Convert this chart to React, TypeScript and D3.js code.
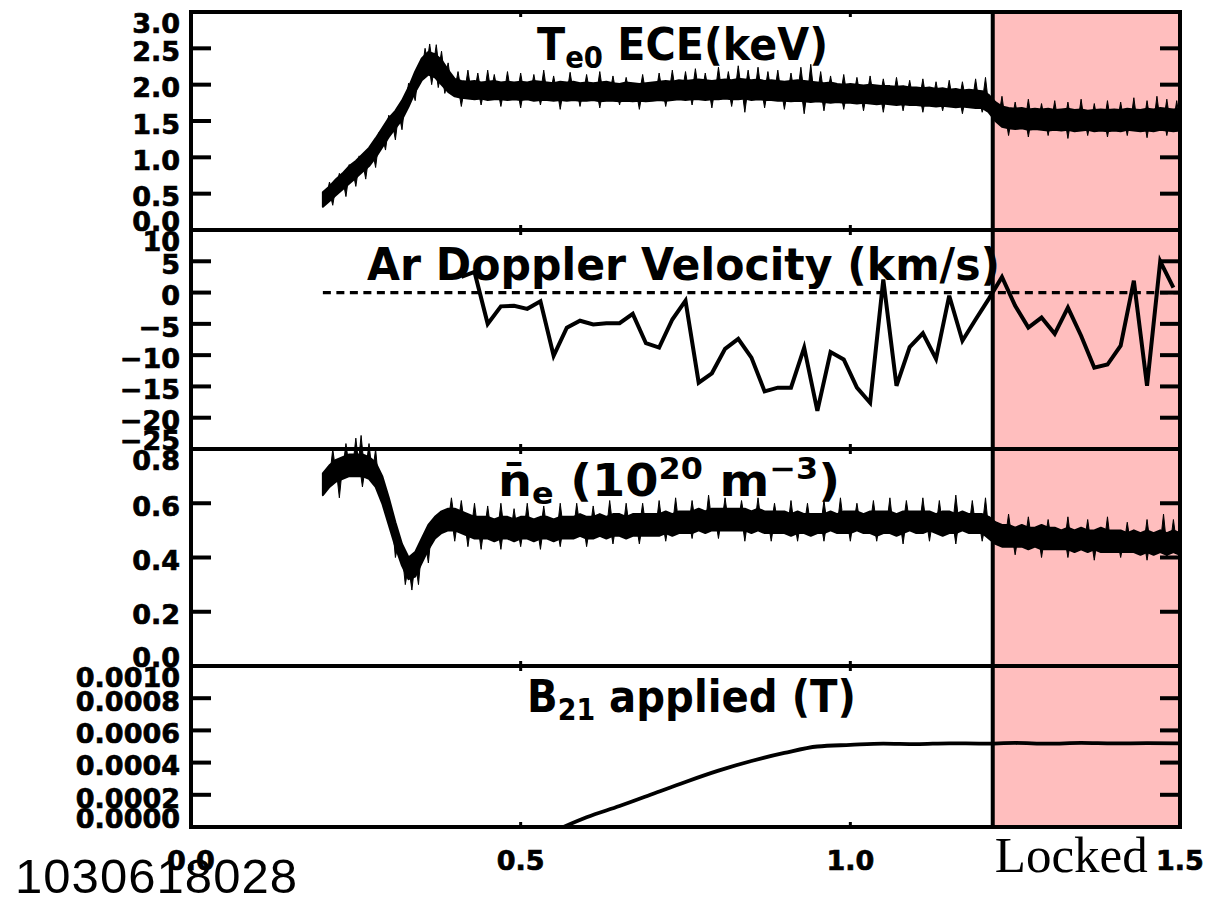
import React from 'react';
import * as d3 from 'd3';

// ---------- data ----------
const SAMPLE_START = 0.2; // s
const SAMPLE_STEP = 0.01; // s

// Te0 ECE band envelope (keV), sampled 0.20 .. 1.50 s
const teUpper = [
  0.52, 0.60, 0.70, 0.78, 0.88, 0.95, 1.04, 1.13, 1.26, 1.40,
  1.54, 1.64, 1.78, 1.96, 2.18, 2.36, 2.45, 2.42, 2.34, 2.20,
  2.08, 2.05, 2.04, 2.05, 2.03, 2.04, 2.05, 2.03, 2.04, 2.03,
  2.04, 2.03, 2.05, 2.04, 2.03, 2.02, 2.04, 2.03, 2.04, 2.02,
  2.03, 2.02, 2.03, 2.04, 2.02, 2.01, 2.03, 2.02, 2.01, 2.02,
  2.03, 2.04, 2.05, 2.04, 2.06, 2.05, 2.06, 2.07, 2.06, 2.05,
  2.06, 2.07, 2.06, 2.08, 2.07, 2.06, 2.07, 2.05, 2.06, 2.05,
  2.04, 2.05, 2.06, 2.05, 2.04, 2.03, 2.02, 2.03, 2.01, 2.00,
  2.01, 2.00, 1.99, 2.00, 1.99, 1.98, 1.98, 1.97, 1.98, 1.96,
  1.96, 1.95, 1.96, 1.94, 1.95, 1.93, 1.94, 1.92, 1.93, 1.92,
  1.91, 1.86, 1.76, 1.70, 1.68, 1.67, 1.68, 1.66, 1.67, 1.66,
  1.67, 1.65, 1.66, 1.67, 1.65, 1.66, 1.64, 1.65, 1.66, 1.65,
  1.66, 1.65, 1.67, 1.66, 1.65, 1.67, 1.66, 1.68, 1.67, 1.66,
  1.67,
];
const teLower = [
  0.32, 0.40, 0.48, 0.56, 0.64, 0.72, 0.80, 0.88, 1.00, 1.14,
  1.28, 1.40, 1.52, 1.70, 1.90, 2.06, 2.14, 2.10, 2.00, 1.90,
  1.84, 1.82, 1.81, 1.80, 1.81, 1.79, 1.80, 1.80, 1.79, 1.80,
  1.79, 1.80, 1.78, 1.79, 1.79, 1.78, 1.79, 1.78, 1.79, 1.78,
  1.78, 1.79, 1.77, 1.78, 1.78, 1.77, 1.78, 1.77, 1.78, 1.77,
  1.78, 1.79, 1.78, 1.79, 1.80, 1.79, 1.80, 1.80, 1.79, 1.80,
  1.80, 1.81, 1.80, 1.80, 1.81, 1.79, 1.80, 1.79, 1.79, 1.78,
  1.78, 1.77, 1.78, 1.77, 1.76, 1.77, 1.76, 1.75, 1.76, 1.75,
  1.75, 1.74, 1.75, 1.74, 1.73, 1.74, 1.73, 1.72, 1.73, 1.72,
  1.72, 1.71, 1.71, 1.70, 1.71, 1.70, 1.69, 1.70, 1.69, 1.68,
  1.68, 1.62, 1.50, 1.42, 1.40, 1.39, 1.40, 1.38, 1.39, 1.38,
  1.37, 1.38, 1.37, 1.38, 1.36, 1.37, 1.38, 1.36, 1.37, 1.36,
  1.37, 1.36, 1.38, 1.37, 1.36, 1.37, 1.36, 1.38, 1.37, 1.36,
  1.37,
];
// Te0 noise spikes: times (s) and tip values (keV)
const teSpikeUpT = [
  0.21, 0.225, 0.24, 0.255, 0.27, 0.285, 0.3, 0.315, 0.33, 0.345, 0.355, 0.362, 0.372, 0.38, 0.39,
  0.405, 0.42, 0.435, 0.45, 0.46, 0.48, 0.5, 0.52, 0.535, 0.55, 0.575, 0.6, 0.62, 0.64, 0.66,
  0.685, 0.71, 0.73, 0.75, 0.765, 0.78, 0.8, 0.815, 0.83, 0.845, 0.86, 0.875, 0.89, 0.91, 0.925,
  0.94, 0.955, 0.97, 0.99, 1.01, 1.03, 1.05, 1.07, 1.09, 1.11, 1.13, 1.15, 1.17, 1.19, 1.205,
  1.23, 1.25, 1.27, 1.29, 1.31, 1.33, 1.35, 1.37, 1.39, 1.41, 1.43, 1.45, 1.465, 1.48, 1.495,
];
const teSpikeUpV = [
  0.66, 0.78, 0.9, 1.02, 1.12, 1.34, 1.58, 1.72, 2.02, 2.26, 2.5, 2.56, 2.55, 2.46, 2.3,
  2.18, 2.2, 2.16, 2.2, 2.14, 2.18, 2.16, 2.14, 2.2, 2.12, 2.17, 2.14, 2.18, 2.12, 2.1,
  2.14, 2.16, 2.2, 2.18, 2.22, 2.16, 2.24, 2.18, 2.26, 2.2, 2.24, 2.18, 2.2, 2.16, 2.24,
  2.28, 2.18, 2.12, 2.14, 2.1, 2.12, 2.08, 2.1, 2.06, 2.08, 2.04, 2.06, 2.04, 2.08, 2.1,
  1.84, 1.76, 1.8, 1.74, 1.78, 1.76, 1.8, 1.74, 1.78, 1.76, 1.82, 1.78, 1.84, 1.8, 1.78,
];
const teSpikeDownT = [
  0.215, 0.235, 0.25, 0.265, 0.28, 0.295, 0.31, 0.32, 0.34, 0.365, 0.375, 0.385,
  0.41, 0.44, 0.47, 0.5, 0.53, 0.56, 0.59, 0.62, 0.65, 0.68, 0.72, 0.76, 0.79, 0.82,
  0.84, 0.87, 0.9, 0.93, 0.96, 0.99, 1.02, 1.05, 1.08, 1.11, 1.14, 1.17, 1.2,
  1.24, 1.27, 1.3, 1.33, 1.36, 1.39, 1.42, 1.45, 1.48,
];
const teSpikeDownV = [
  0.34, 0.46, 0.6, 0.7, 0.86, 1.1, 1.24, 1.38, 1.78, 2.0, 1.96, 1.88,
  1.7, 1.72, 1.7, 1.68, 1.72, 1.66, 1.7, 1.68, 1.72, 1.66, 1.7, 1.72, 1.68, 1.7,
  1.62, 1.68, 1.66, 1.6, 1.64, 1.66, 1.64, 1.62, 1.64, 1.62, 1.64, 1.6, 1.62,
  1.3, 1.28, 1.3, 1.26, 1.3, 1.28, 1.3, 1.27, 1.3,
];

// line-averaged density band envelope (1e20 m^-3), sampled 0.20 .. 1.50 s
const neUpper = [
  0.71, 0.74, 0.76, 0.77, 0.78, 0.78, 0.78, 0.77, 0.75, 0.70,
  0.62, 0.53, 0.45, 0.40, 0.42, 0.47, 0.52, 0.55, 0.57, 0.58,
  0.58, 0.57, 0.56, 0.55, 0.55, 0.55, 0.54, 0.55, 0.55, 0.54,
  0.55, 0.55, 0.54, 0.55, 0.55, 0.54, 0.55, 0.55, 0.55, 0.56,
  0.55, 0.55, 0.56, 0.55, 0.56, 0.56, 0.55, 0.56, 0.56, 0.56,
  0.56, 0.56, 0.57, 0.56, 0.57, 0.57, 0.57, 0.58, 0.57, 0.58,
  0.58, 0.58, 0.58, 0.58, 0.58, 0.57, 0.58, 0.57, 0.57, 0.57,
  0.57, 0.56, 0.57, 0.56, 0.56, 0.56, 0.56, 0.57, 0.56, 0.57,
  0.57, 0.57, 0.56, 0.57, 0.57, 0.57, 0.57, 0.56, 0.57, 0.57,
  0.57, 0.57, 0.57, 0.56, 0.57, 0.57, 0.56, 0.57, 0.56, 0.56,
  0.56, 0.55, 0.53, 0.52, 0.52, 0.51, 0.52, 0.51, 0.51, 0.52,
  0.51, 0.51, 0.50, 0.51, 0.50, 0.51, 0.50, 0.50, 0.51, 0.50,
  0.50, 0.50, 0.49, 0.50, 0.49, 0.50, 0.49, 0.50, 0.49, 0.50,
  0.49,
];
const neLower = [
  0.63, 0.66, 0.68, 0.69, 0.70, 0.70, 0.70, 0.69, 0.66, 0.60,
  0.52, 0.44, 0.37, 0.32, 0.33, 0.38, 0.43, 0.47, 0.49, 0.50,
  0.50, 0.49, 0.48, 0.47, 0.47, 0.47, 0.46, 0.47, 0.47, 0.46,
  0.47, 0.47, 0.46, 0.47, 0.47, 0.46, 0.47, 0.47, 0.47, 0.48,
  0.47, 0.47, 0.48, 0.47, 0.48, 0.48, 0.47, 0.48, 0.48, 0.48,
  0.48, 0.48, 0.49, 0.48, 0.49, 0.49, 0.49, 0.50, 0.49, 0.50,
  0.50, 0.50, 0.50, 0.50, 0.50, 0.49, 0.50, 0.49, 0.49, 0.49,
  0.49, 0.48, 0.49, 0.49, 0.48, 0.49, 0.49, 0.50, 0.49, 0.49,
  0.49, 0.50, 0.49, 0.49, 0.48, 0.49, 0.49, 0.48, 0.49, 0.50,
  0.49, 0.49, 0.50, 0.49, 0.48, 0.49, 0.49, 0.50, 0.49, 0.49,
  0.49, 0.47, 0.45, 0.44, 0.44, 0.44, 0.44, 0.43, 0.44, 0.43,
  0.43, 0.43, 0.43, 0.43, 0.42, 0.43, 0.42, 0.43, 0.42, 0.42,
  0.42, 0.42, 0.42, 0.42, 0.41, 0.42, 0.41, 0.42, 0.41, 0.42,
  0.41,
];
const neSpikeUpT = [
  0.215, 0.235, 0.25, 0.258, 0.27, 0.28, 0.395, 0.41, 0.43, 0.45, 0.47, 0.49, 0.51, 0.535,
  0.56, 0.585, 0.61, 0.635, 0.66, 0.685, 0.71, 0.735, 0.76, 0.785, 0.81, 0.835, 0.86, 0.885,
  0.91, 0.935, 0.96, 0.985, 1.01, 1.035, 1.06, 1.085, 1.11, 1.135, 1.16, 1.185, 1.205,
  1.24, 1.27, 1.3, 1.33, 1.36, 1.39, 1.42, 1.45, 1.475, 1.49,
];
const neSpikeUpV = [
  0.8, 0.82, 0.84, 0.85, 0.82, 0.8, 0.62, 0.61, 0.6, 0.59, 0.6, 0.58, 0.6, 0.59,
  0.6, 0.6, 0.59, 0.61, 0.6, 0.6, 0.61, 0.62, 0.61, 0.63, 0.62, 0.61, 0.62, 0.6,
  0.61, 0.6, 0.61, 0.62, 0.6, 0.61, 0.62, 0.61, 0.62, 0.61, 0.63, 0.61, 0.62,
  0.56, 0.55, 0.54, 0.55, 0.54, 0.55, 0.53, 0.54, 0.56, 0.54,
];
const neSpikeDownT = [
  0.225, 0.26, 0.31, 0.325, 0.335, 0.345, 0.36, 0.4, 0.42, 0.44, 0.47, 0.5, 0.53, 0.56,
  0.6, 0.64, 0.68, 0.72, 0.76, 0.8, 0.84, 0.88, 0.92, 0.96, 1.0, 1.04, 1.08, 1.12, 1.16, 1.2,
  1.25, 1.29, 1.33, 1.37, 1.41, 1.45, 1.48,
];
const neSpikeDownV = [
  0.62, 0.66, 0.4, 0.3, 0.28, 0.3, 0.38, 0.46, 0.44, 0.43, 0.43, 0.44, 0.43, 0.44,
  0.44, 0.45, 0.45, 0.46, 0.47, 0.47, 0.46, 0.46, 0.46, 0.46, 0.46, 0.46, 0.45, 0.46, 0.45, 0.46,
  0.41, 0.4, 0.4, 0.39, 0.4, 0.39, 0.4,
];

// Ar Doppler velocity (km/s), every 0.02 s from 0.41 s
const DOP_START = 0.41;
const DOP_STEP = 0.02;
const dopVelocity = [
  2.5, 3.3, -5.0, -2.2, -2.1, -2.6, -1.4, -10.1, -5.6, -4.5,
  -5.1, -4.9, -4.9, -3.4, -8.1, -8.8, -4.3, -1.3, -14.4, -12.9,
  -9.0, -7.4, -10.4, -15.8, -15.2, -15.2, -8.8, -18.9, -9.5, -10.7,
  -15.2, -17.6, 2.1, -14.9, -8.7, -6.5, -10.6, -0.5, -7.7, -4.3,
  -1.0, 2.5, -2.1, -5.6, -4.0, -6.6, -2.4, -6.9, -12.0, -11.5,
  -8.5, 1.9, -14.9, 5.0, 0.8,
];

// B21 applied (T)
const b21Times = [0.565, 0.6, 0.65, 0.7, 0.75, 0.8, 0.85, 0.9, 0.95, 1.0, 1.05, 1.1, 1.15, 1.2, 1.25, 1.3, 1.35, 1.4, 1.45, 1.5];
const b21Values = [0, 0.00006, 0.00013, 0.000205, 0.00028, 0.00035, 0.00041, 0.00046, 0.0005, 0.00051, 0.000518, 0.000515, 0.00052, 0.000518, 0.000522, 0.000518, 0.000522, 0.000519, 0.000521, 0.00052];

const LOCK_START = 1.216;
const ZERO_LINE_START = 0.2;

const xTicks = [0, 0.5, 1.0, 1.5];
const xTickLabels = ['0.0', '0.5', '1.0', '1.5'];

const teTicks = [0, 0.5, 1, 1.5, 2, 2.5, 3];
const teTickLabels = ['0.0', '0.5', '1.0', '1.5', '2.0', '2.5', '3.0'];
const dopTicks = [-25, -20, -15, -10, -5, 0, 5, 10];
const dopTickLabels = ['\u221225', '\u221220', '\u221215', '\u221210', '\u22125', '0', '5', '10'];
const neTicks = [0, 0.2, 0.4, 0.6, 0.8];
const neTickLabels = ['0.0', '0.2', '0.4', '0.6', '0.8'];
const b21Ticks = [0, 0.0002, 0.0004, 0.0006, 0.0008, 0.001];
const b21TickLabels = ['0.0000', '0.0002', '0.0004', '0.0006', '0.0008', '0.0010'];

const SHOT = '1030618028';

// ---------- layout ----------
const LEFT = 191;
const RIGHT = 1180;
const BOLD = '"DejaVu Sans", "Liberation Sans", sans-serif';
const SPIKE_HALF = 0.0045; // s

const x = d3.scaleLinear().domain([0, 1.5]).range([LEFT, RIGHT]);

const panels = [
  { top: 12, bottom: 230, domain: [0, 3], ticks: teTicks, labels: teTickLabels },
  { top: 230, bottom: 449, domain: [-25, 10], ticks: dopTicks, labels: dopTickLabels },
  { top: 449, bottom: 666, domain: [0, 0.8], ticks: neTicks, labels: neTickLabels },
  { top: 666, bottom: 827, domain: [0, 0.001], ticks: b21Ticks, labels: b21TickLabels },
].map((p) => ({ ...p, y: d3.scaleLinear().domain(p.domain).range([p.bottom, p.top]) }));

const sampleTime = (i: number) => SAMPLE_START + i * SAMPLE_STEP;

// value of a sampled band centre at time t (for spike bases)
function bandMid(upper: number[], lower: number[], t: number) {
  const f = (t - SAMPLE_START) / SAMPLE_STEP;
  const i = Math.max(0, Math.min(upper.length - 2, Math.floor(f)));
  const a = Math.max(0, Math.min(1, f - i));
  const m0 = (upper[i] + lower[i]) / 2;
  const m1 = (upper[i + 1] + lower[i + 1]) / 2;
  return m0 + (m1 - m0) * a;
}

function spikePath(
  times: number[],
  tips: number[],
  upper: number[],
  lower: number[],
  y: d3.ScaleLinear<number, number>
) {
  return times
    .map((t, k) => {
      const t0 = Math.max(SAMPLE_START, t - SPIKE_HALF);
      const t1 = Math.min(1.5, t + SPIKE_HALF);
      return `M${x(t0)},${y(bandMid(upper, lower, t0))}L${x(t)},${y(tips[k])}L${x(t1)},${y(bandMid(upper, lower, t1))}Z`;
    })
    .join('');
}

export default function App() {
  const [pTe, pDop, pNe, pB] = panels;

  const teArea = d3
    .area<number>()
    .x((_, i) => x(sampleTime(i)))
    .y0((_, i) => pTe.y(teLower[i]))
    .y1((d) => pTe.y(d))(teUpper) as string;

  const neArea = d3
    .area<number>()
    .x((_, i) => x(sampleTime(i)))
    .y0((_, i) => pNe.y(neLower[i]))
    .y1((d) => pNe.y(d))(neUpper) as string;

  const teSpikes =
    spikePath(teSpikeUpT, teSpikeUpV, teUpper, teLower, pTe.y) +
    spikePath(teSpikeDownT, teSpikeDownV, teUpper, teLower, pTe.y);
  const neSpikes =
    spikePath(neSpikeUpT, neSpikeUpV, neUpper, neLower, pNe.y) +
    spikePath(neSpikeDownT, neSpikeDownV, neUpper, neLower, pNe.y);

  const dopLine = d3
    .line<number>()
    .x((_, i) => x(DOP_START + i * DOP_STEP))
    .y((d) => pDop.y(d))(dopVelocity) as string;

  const b21Line = d3
    .line<number>()
    .x((_, i) => x(b21Times[i]))
    .y((d) => pB.y(d))
    .curve(d3.curveMonotoneX)(b21Values) as string;

  const lockX = x(LOCK_START);

  const labelStyle = { fontFamily: BOLD, fontWeight: 'bold' as const, fontSize: 27, stroke: '#000', strokeWidth: 0.7 };

  return (
    <svg width={1220} height={900} style={{ position: 'absolute', left: 0, top: 0, background: '#fff' }}>
      <rect x={0} y={0} width={1220} height={900} fill="#fff" />
      {/* locked shading */}
      <rect x={lockX} y={pTe.top} width={x(1.5) - lockX} height={pB.bottom - pTe.top} fill="#ffbebe" />

      {/* traces */}
      <path d={teArea} fill="#000" stroke="#000" strokeWidth={2} strokeLinejoin="round" />
      <path d={teSpikes} fill="#000" stroke="#000" strokeWidth={1} strokeLinejoin="round" />
      <path d={neArea} fill="#000" stroke="#000" strokeWidth={2} strokeLinejoin="round" />
      <path d={neSpikes} fill="#000" stroke="#000" strokeWidth={1} strokeLinejoin="round" />
      <line x1={x(ZERO_LINE_START)} x2={x(1.5)} y1={pDop.y(0)} y2={pDop.y(0)} stroke="#000" strokeWidth={3.2} strokeDasharray="8 5.5" />
      <path d={dopLine} fill="none" stroke="#000" strokeWidth={4} strokeLinejoin="miter" />
      <path d={b21Line} fill="none" stroke="#000" strokeWidth={3.8} />

      {/* lock boundary */}
      <line x1={lockX} x2={lockX} y1={pTe.top} y2={pB.bottom} stroke="#000" strokeWidth={4} />

      {/* frames and ticks */}
      {panels.map((p, pi) => (
        <g key={pi}>
          <rect x={LEFT} y={p.top} width={RIGHT - LEFT} height={p.bottom - p.top} fill="none" stroke="#000" strokeWidth={4} />
          {p.ticks.map((t, ti) => (
            <g key={ti}>
              <line x1={LEFT} x2={LEFT + 20} y1={p.y(t)} y2={p.y(t)} stroke="#000" strokeWidth={4} />
              <line x1={RIGHT - 20} x2={RIGHT} y1={p.y(t)} y2={p.y(t)} stroke="#000" strokeWidth={4} />
            </g>
          ))}
          {xTicks.map((t, ti) => (
            <g key={'x' + ti}>
              <line x1={x(t)} x2={x(t)} y1={p.top} y2={p.top + 5} stroke="#000" strokeWidth={3} />
              <line x1={x(t)} x2={x(t)} y1={p.bottom - 5} y2={p.bottom} stroke="#000" strokeWidth={3} />
            </g>
          ))}
          {p.ticks.map((t, ti) => {
            const n = p.ticks.length;
            const off = ti === 0 ? -9 : ti === n - 1 ? 11 : 3;
            return (
              <text key={'l' + ti} x={180} y={p.y(t) + off} dy="0.36em" textAnchor="end" {...labelStyle}>
                {p.labels[ti]}
              </text>
            );
          })}
        </g>
      ))}

      {/* x tick labels */}
      {xTicks.map((t, i) => (
        <text key={i} x={x(t)} y={870} textAnchor="middle" {...labelStyle}>
          {xTickLabels[i]}
        </text>
      ))}

      {/* titles */}
      <text x={537} y={60} fontFamily={BOLD} fontWeight="bold" fontSize={45} textLength={291} lengthAdjust="spacingAndGlyphs">
        T<tspan fontSize={30} dy={8}>e0</tspan>
        <tspan dy={-8}> ECE(keV)</tspan>
      </text>
      <text x={367} y={280} fontFamily={BOLD} fontWeight="bold" fontSize={45} textLength={633} lengthAdjust="spacingAndGlyphs">
        Ar Doppler Velocity (km/s)
      </text>
      <text x={498} y={496} fontFamily={BOLD} fontWeight="bold" fontSize={45} textLength={342} lengthAdjust="spacingAndGlyphs">
        {'n\u0304'}
        <tspan fontSize={30} dy={8}>e</tspan>
        <tspan dy={-8}> (10</tspan>
        <tspan fontSize={30} dy={-17}>20</tspan>
        <tspan dy={17}> m</tspan>
        <tspan fontSize={30} dy={-17}>{'\u22123'}</tspan>
        <tspan dy={17}>)</tspan>
      </text>
      <text x={527} y={712} fontFamily={BOLD} fontWeight="bold" fontSize={45} textLength={329} lengthAdjust="spacingAndGlyphs">
        B<tspan fontSize={30} dy={8}>21</tspan>
        <tspan dy={-8}> applied (T)</tspan>
      </text>

      {/* annotations */}
      <text x={lockX + 2} y={872} fontFamily='"Liberation Serif", "Times New Roman", serif' fontSize={51}>
        Locked
      </text>
      <text x={15} y={893} fontFamily='"Liberation Sans", Arial, sans-serif' fontSize={49} textLength={282} lengthAdjust="spacing">
        {SHOT}
      </text>
    </svg>
  );
}
